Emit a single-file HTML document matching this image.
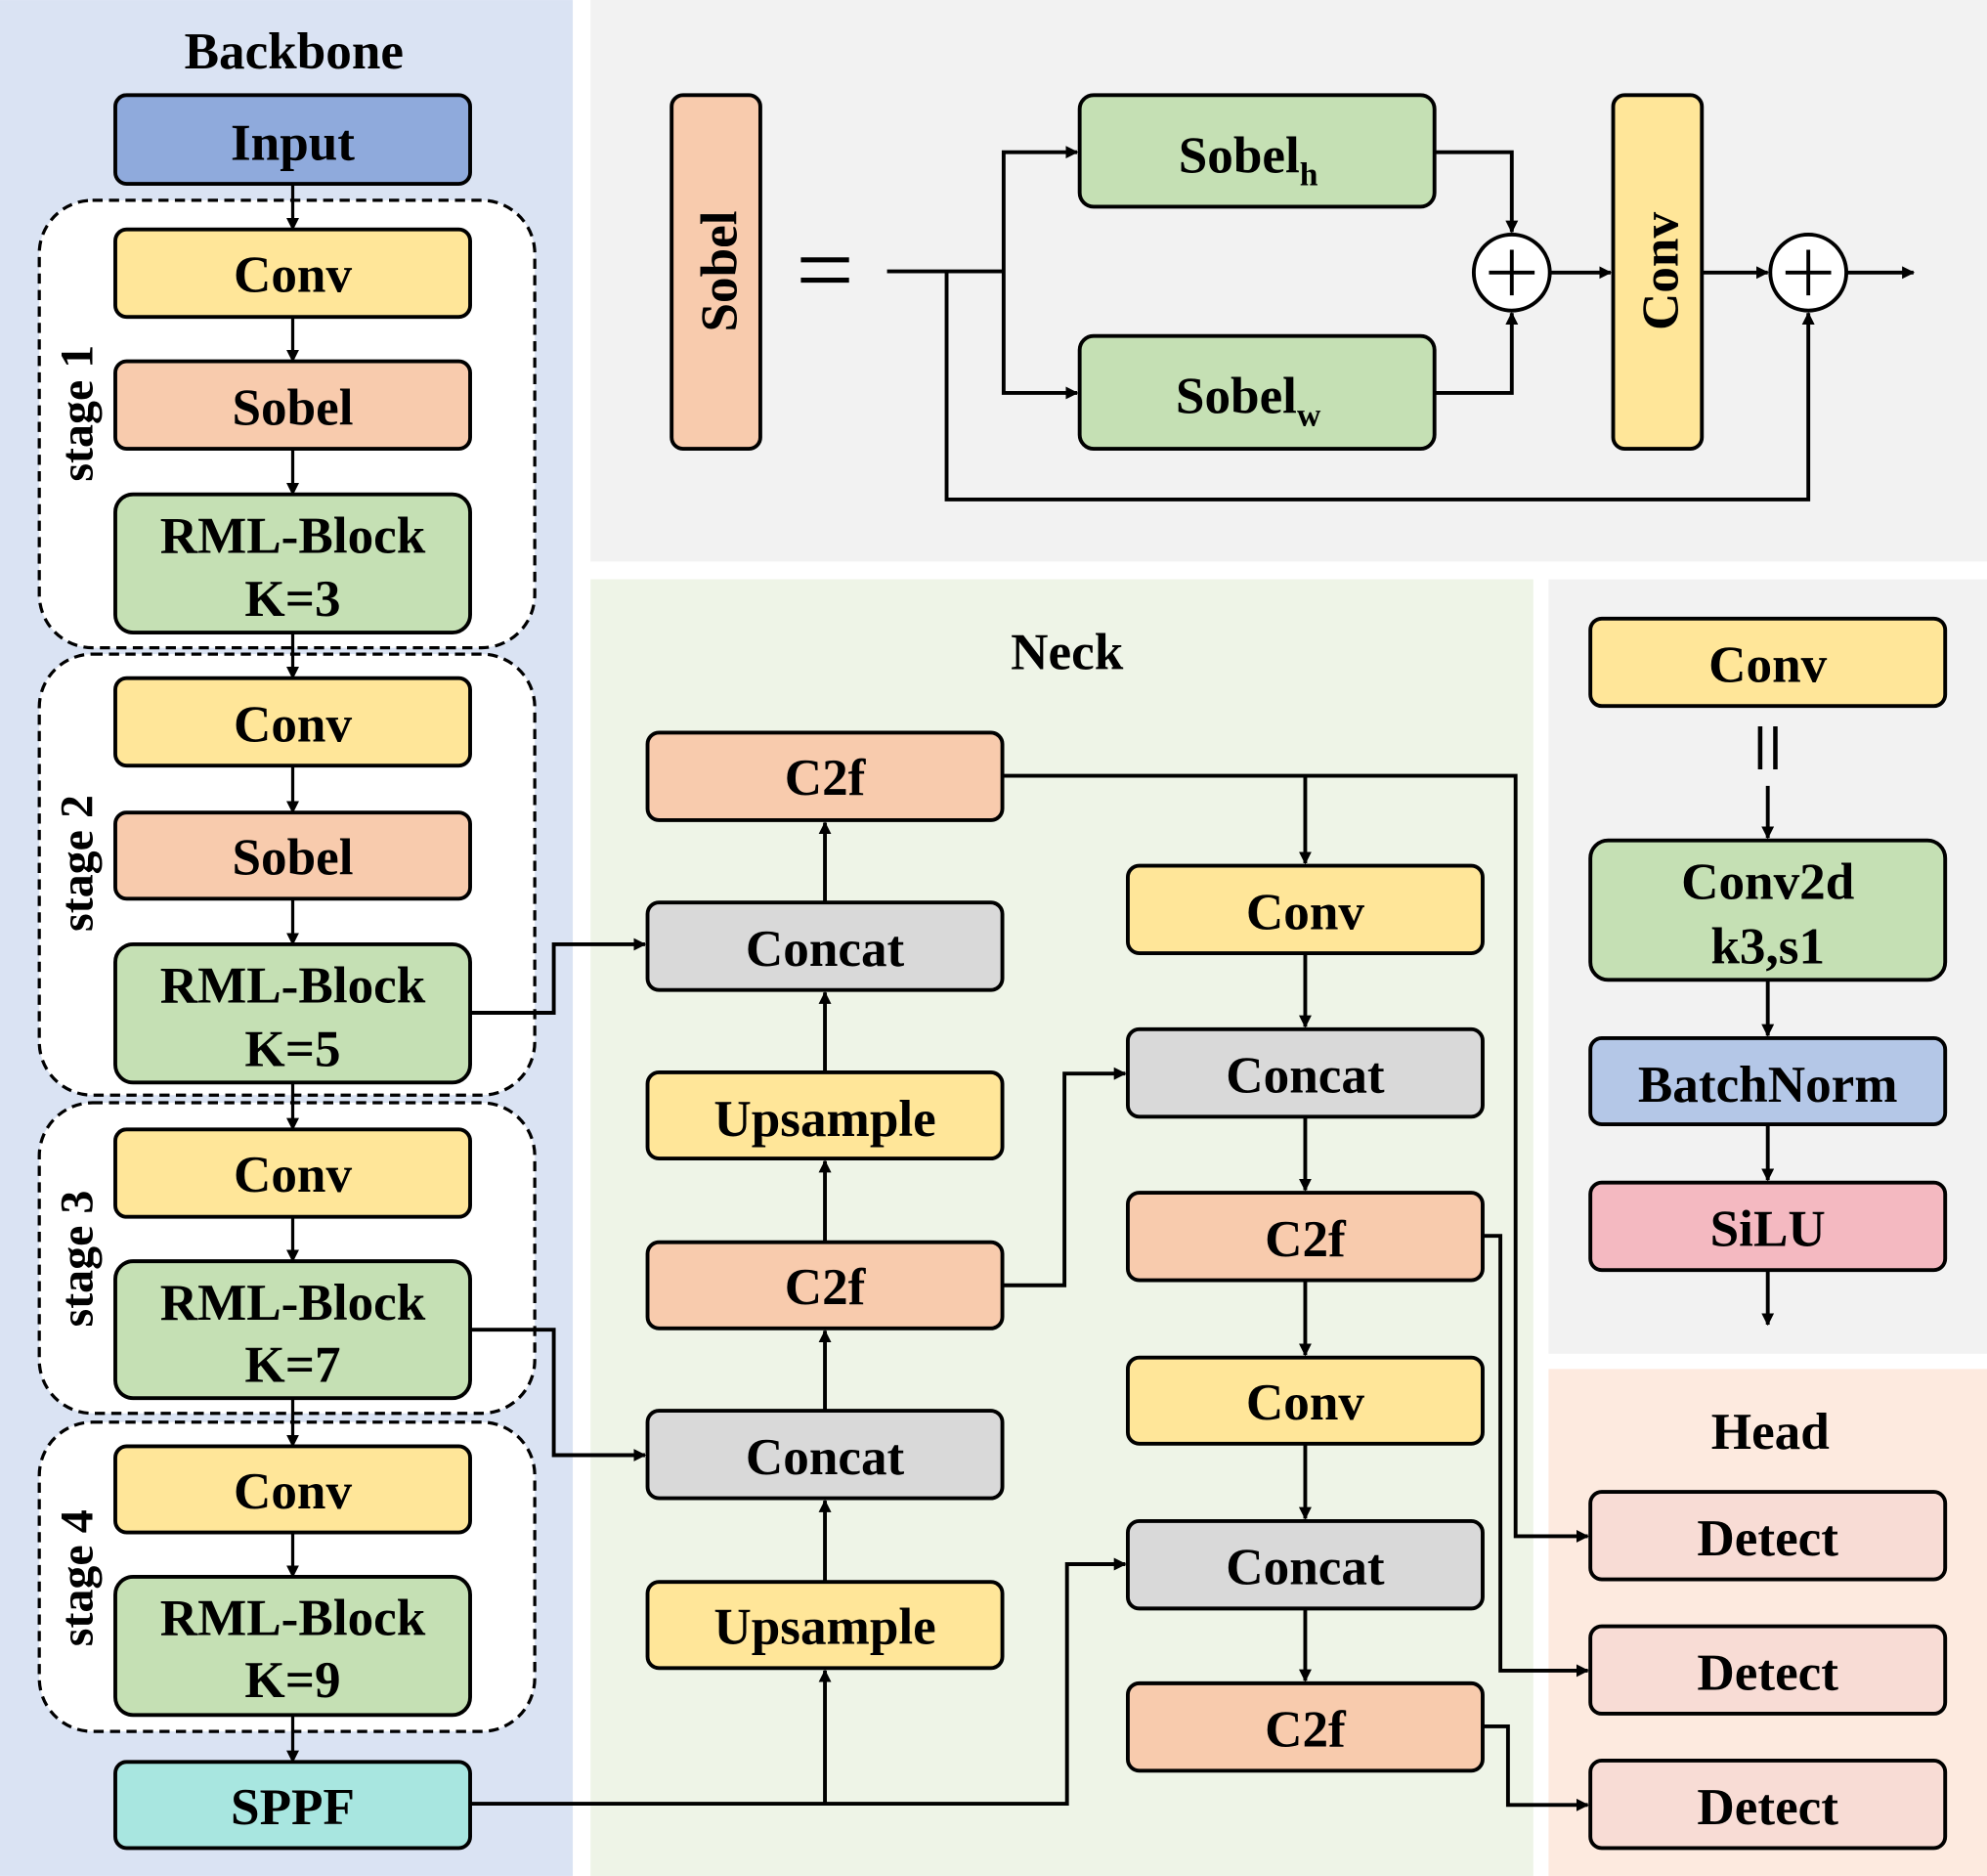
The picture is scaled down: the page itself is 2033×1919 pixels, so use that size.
<!DOCTYPE html>
<html><head><meta charset="utf-8"><style>
html,body{margin:0;padding:0;background:#fff;}
svg{display:block;}
text{font-family:"Liberation Serif",serif;font-weight:bold;fill:#000;}
</style></head><body>
<svg width="2033" height="1919" viewBox="0 0 1568 1480" xmlns="http://www.w3.org/2000/svg">
<defs>
<marker id="a" markerWidth="10" markerHeight="10" refX="9" refY="5" orient="auto" markerUnits="userSpaceOnUse">
<path d="M0,0 L10,5 L0,10 z" fill="#000"/></marker>
</defs>
<rect x="0" y="0" width="452" height="1480" fill="#dae3f3"/>
<rect x="466" y="0" width="1102" height="443" fill="#f2f2f2"/>
<rect x="466" y="457" width="744" height="1023" fill="#eef4e7"/>
<rect x="1222" y="457" width="346" height="611" fill="#f2f2f2"/>
<rect x="1222" y="1080" width="346" height="400" fill="#fdeadf"/>

<g font-size="41" text-anchor="middle">
<text x="232" y="54">Backbone</text>
<text x="842" y="528">Neck</text>
<text x="1397" y="1143">Head</text>
</g>

<g fill="#fff" stroke="#000" stroke-width="2.5" stroke-dasharray="8,5">
<rect x="31" y="158" width="391" height="353" rx="42"/>
<rect x="31" y="516" width="391" height="348" rx="42"/>
<rect x="31" y="870" width="391" height="245" rx="42"/>
<rect x="31" y="1122" width="391" height="244" rx="42"/>
</g>
<g font-size="37" text-anchor="middle">
<text transform="translate(73,326) rotate(-90)">stage 1</text>
<text transform="translate(73,681) rotate(-90)">stage 2</text>
<text transform="translate(73,993) rotate(-90)">stage 3</text>
<text transform="translate(73,1245) rotate(-90)">stage 4</text>
</g>

<g stroke="#000" stroke-width="2.5" fill="none" marker-end="url(#a)">
<line x1="231" y1="145" x2="231" y2="181"/>
<line x1="231" y1="250" x2="231" y2="285"/>
<line x1="231" y1="354" x2="231" y2="390"/>
<line x1="231" y1="499" x2="231" y2="535"/>
<line x1="231" y1="604" x2="231" y2="641"/>
<line x1="231" y1="709" x2="231" y2="745"/>
<line x1="231" y1="854" x2="231" y2="891"/>
<line x1="231" y1="960" x2="231" y2="995"/>
<line x1="231" y1="1103" x2="231" y2="1141"/>
<line x1="231" y1="1209" x2="231" y2="1244"/>
<line x1="231" y1="1353" x2="231" y2="1390"/>
</g>

<g stroke="#000" stroke-width="3">
<rect x="91" y="75" width="280" height="70" rx="9" fill="#8faadc"/>
<rect x="91" y="181" width="280" height="69" rx="9" fill="#ffe699"/>
<rect x="91" y="285" width="280" height="69" rx="9" fill="#f8cbad"/>
<rect x="91" y="390" width="280" height="109" rx="14" fill="#c5e0b4"/>
<rect x="91" y="535" width="280" height="69" rx="9" fill="#ffe699"/>
<rect x="91" y="641" width="280" height="68" rx="9" fill="#f8cbad"/>
<rect x="91" y="745" width="280" height="109" rx="14" fill="#c5e0b4"/>
<rect x="91" y="891" width="280" height="69" rx="9" fill="#ffe699"/>
<rect x="91" y="995" width="280" height="108" rx="14" fill="#c5e0b4"/>
<rect x="91" y="1141" width="280" height="68" rx="9" fill="#ffe699"/>
<rect x="91" y="1244" width="280" height="109" rx="14" fill="#c5e0b4"/>
<rect x="91" y="1390" width="280" height="68" rx="9" fill="#a8e6e0"/>

<rect x="511" y="578" width="280" height="69" rx="9" fill="#f8cbad"/>
<rect x="511" y="712" width="280" height="69" rx="9" fill="#d9d9d9"/>
<rect x="511" y="846" width="280" height="68" rx="9" fill="#ffe699"/>
<rect x="511" y="980" width="280" height="68" rx="9" fill="#f8cbad"/>
<rect x="511" y="1113" width="280" height="69" rx="9" fill="#d9d9d9"/>
<rect x="511" y="1248" width="280" height="68" rx="9" fill="#ffe699"/>

<rect x="890" y="683" width="280" height="69" rx="9" fill="#ffe699"/>
<rect x="890" y="812" width="280" height="69" rx="9" fill="#d9d9d9"/>
<rect x="890" y="941" width="280" height="69" rx="9" fill="#f8cbad"/>
<rect x="890" y="1071" width="280" height="68" rx="9" fill="#ffe699"/>
<rect x="890" y="1200" width="280" height="69" rx="9" fill="#d9d9d9"/>
<rect x="890" y="1328" width="280" height="69" rx="9" fill="#f8cbad"/>

<rect x="1255" y="488" width="280" height="69" rx="9" fill="#ffe699"/>
<rect x="1255" y="663" width="280" height="110" rx="14" fill="#c5e0b4"/>
<rect x="1255" y="819" width="280" height="68" rx="9" fill="#b4c7e7"/>
<rect x="1255" y="933" width="280" height="69" rx="9" fill="#f4b9c1"/>
<rect x="1255" y="1177" width="280" height="69" rx="9" fill="#f8dcd5"/>
<rect x="1255" y="1283" width="280" height="69" rx="9" fill="#f8dcd5"/>
<rect x="1255" y="1389" width="280" height="69" rx="9" fill="#f8dcd5"/>

<rect x="530" y="75" width="70" height="279" rx="9" fill="#f8cbad"/>
<rect x="852" y="75" width="280" height="88" rx="11" fill="#c5e0b4"/>
<rect x="852" y="265" width="280" height="89" rx="11" fill="#c5e0b4"/>
<rect x="1273" y="75" width="70" height="279" rx="9" fill="#ffe699"/>
</g>

<g font-size="41" text-anchor="middle">
<text x="231" y="126">Input</text>
<text x="231" y="230">Conv</text>
<text x="231" y="335">Sobel</text>
<text x="231" y="436">RML-Block</text><text x="231" y="486">K=3</text>
<text x="231" y="585">Conv</text>
<text x="231" y="690">Sobel</text>
<text x="231" y="791">RML-Block</text><text x="231" y="841">K=5</text>
<text x="231" y="940">Conv</text>
<text x="231" y="1041">RML-Block</text><text x="231" y="1090">K=7</text>
<text x="231" y="1190">Conv</text>
<text x="231" y="1290">RML-Block</text><text x="231" y="1339">K=9</text>
<text x="231" y="1439">SPPF</text>

<text x="651" y="627">C2f</text>
<text x="651" y="762">Concat</text>
<text x="651" y="896">Upsample</text>
<text x="651" y="1029">C2f</text>
<text x="651" y="1163">Concat</text>
<text x="651" y="1297">Upsample</text>

<text x="1030" y="733">Conv</text>
<text x="1030" y="862">Concat</text>
<text x="1030" y="991">C2f</text>
<text x="1030" y="1120">Conv</text>
<text x="1030" y="1250">Concat</text>
<text x="1030" y="1378">C2f</text>

<text x="1395" y="538">Conv</text>
<text x="1395" y="709">Conv2d</text><text x="1395" y="760">k3,s1</text>
<text x="1395" y="869">BatchNorm</text>
<text x="1395" y="983">SiLU</text>
<text x="1395" y="1227">Detect</text>
<text x="1395" y="1333">Detect</text>
<text x="1395" y="1439">Detect</text>

<text x="985" y="136">Sobel<tspan font-size="26" dy="10">h</tspan></text>
<text x="985" y="326">Sobel<tspan font-size="26" dy="10">w</tspan></text>
<text transform="translate(581,214) rotate(-90)">Sobel</text>
<text transform="translate(1324,214) rotate(-90)">Conv</text>
</g>
<g stroke="#000" stroke-width="4">
<line x1="632" y1="205" x2="670" y2="205"/>
<line x1="632" y1="221" x2="670" y2="221"/>
</g>

<g stroke="#000" stroke-width="3" fill="none">
<polyline points="700,214 792,214"/>
<polyline points="792,214 792,120 850,120" marker-end="url(#a)"/>
<polyline points="792,214 792,310 850,310" marker-end="url(#a)"/>
<polyline points="1132,120 1193,120 1193,183" marker-end="url(#a)"/>
<polyline points="1132,310 1193,310 1193,247" marker-end="url(#a)"/>
<polyline points="1223,215 1271,215" marker-end="url(#a)"/>
<polyline points="1343,215 1395,215" marker-end="url(#a)"/>
<polyline points="1457,215 1510,215" marker-end="url(#a)"/>
<polyline points="747,214 747,394 1427,394 1427,247" marker-end="url(#a)"/>
<circle cx="1193" cy="215" r="30" fill="#fff"/>
<circle cx="1427" cy="215" r="30" fill="#fff"/>
<path d="M1193,197 V233 M1175,215 H1211 M1427,197 V233 M1409,215 H1445"/>
</g>

<g stroke="#000" stroke-width="3" fill="none" marker-end="url(#a)">
<polyline points="371,799 437,799 437,745 509,745"/>
<polyline points="371,1049 437,1049 437,1148 509,1148"/>
<polyline points="371,1423 842,1423 842,1234 888,1234"/>
<polyline points="651,1423 651,1318"/>
<polyline points="651,1248 651,1184"/>
<polyline points="651,1113 651,1050"/>
<polyline points="651,980 651,916"/>
<polyline points="651,846 651,783"/>
<polyline points="651,712 651,649"/>
<polyline points="791,1014 840,1014 840,847 888,847"/>
<polyline points="791,612 1196,612 1196,1212 1253,1212"/>
<polyline points="1030,612 1030,681"/>
<polyline points="1030,752 1030,810"/>
<polyline points="1030,881 1030,939"/>
<polyline points="1030,1010 1030,1069"/>
<polyline points="1030,1139 1030,1198"/>
<polyline points="1030,1269 1030,1326"/>
<polyline points="1170,975 1184,975 1184,1318 1253,1318"/>
<polyline points="1170,1362 1190,1362 1190,1424 1253,1424"/>
<polyline points="1395,620 1395,661"/>
<polyline points="1395,773 1395,817"/>
<polyline points="1395,887 1395,931"/>
<polyline points="1395,1002 1395,1045"/>
</g>
<g stroke="#000" stroke-width="3.5">
<line x1="1389" y1="573" x2="1389" y2="607"/>
<line x1="1401" y1="573" x2="1401" y2="607"/>
</g>
</svg>
</body></html>
